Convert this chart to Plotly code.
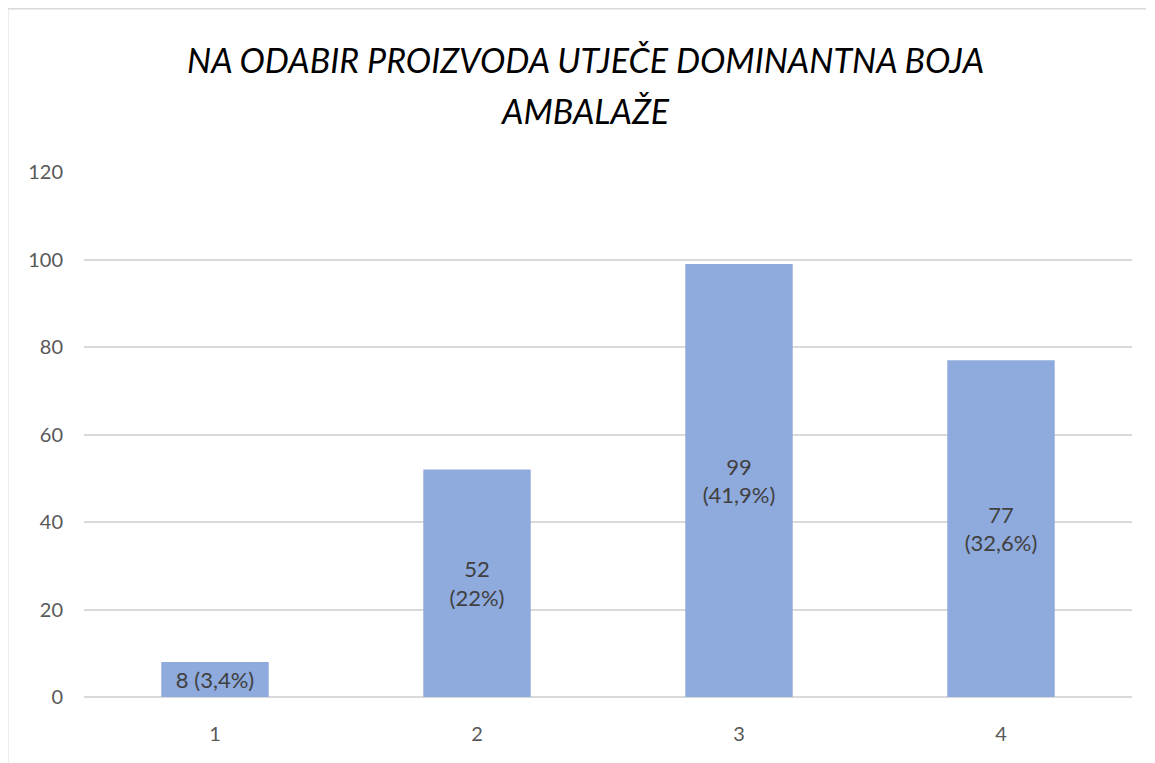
import plotly.graph_objects as go

categories = ["1", "2", "3", "4"]
values = [8, 52, 99, 77]
percent_labels = ["3,4%", "22%", "41,9%", "32,6%"]
label_breaks = [" ", "<br>", "<br>", "<br>"]
title_lines = ["NA ODABIR PROIZVODA UTJEČE DOMINANTNA BOJA", "AMBALAŽE"]
y_ticks = [0, 20, 40, 60, 80, 100, 120]

W, H = 1155, 763
OFF = 8  # page body margin offset
L, R, T, B = 84 - OFF, 23 + OFF, 172 - OFF, 66 + OFF
pw, ph = W - L - R, H - T - B

def px_x(x):
    return (x - OFF - L) / pw

def px_y(y):
    return 1 - (y - OFF - T) / ph

texts = [f"{v}{br}({p})" for v, br, p in zip(values, label_breaks, percent_labels)]

FONT = "Lato, 'Open Sans', sans-serif"

fig = go.Figure(go.Bar(
    x=categories, y=values,
    marker=dict(color="#8FAADC", line=dict(width=0)),
    text=texts, textposition="inside", insidetextanchor="middle",
    constraintext="none",
    textfont=dict(family=FONT, size=22, color="#404040"),
    hoverinfo="skip",
))

annotations = []
for line, ypx in zip(title_lines, [60, 110]):
    annotations.append(dict(
        text=f"<i>{line}</i>", x=px_x(585), y=px_y(ypx), xref="paper", yref="paper",
        xanchor="center", yanchor="middle", showarrow=False,
        font=dict(family=FONT, size=34, color="#000000"),
    ))

fig.update_layout(
    width=W, height=H,
    margin=dict(l=L, r=R, t=T, b=B),
    paper_bgcolor="white", plot_bgcolor="white",
    bargap=0.59,
    showlegend=False,
    annotations=annotations,
    shapes=[
        dict(type="line", xref="paper", yref="paper",
             x0=px_x(7.5), x1=px_x(1146), y0=px_y(8.5), y1=px_y(8.5),
             line=dict(color="#D9D9D9", width=2)),
        dict(type="line", xref="paper", yref="paper",
             x0=px_x(7.5), x1=px_x(7.5), y0=px_y(8.5), y1=px_y(780),
             line=dict(color="#D9D9D9", width=2)),
    ],
    xaxis=dict(
        type="category", showgrid=False, showline=False, zeroline=False,
        ticks="", ticklabelstandoff=23,
        tickfont=dict(family=FONT, size=20, color="#595959"),
    ),
    yaxis=dict(
        range=[0, 120], tickvals=y_ticks, showgrid=True, gridcolor="#D9D9D9",
        gridwidth=1.5, zeroline=True, zerolinecolor="#D9D9D9", zerolinewidth=1.5,
        showline=False, ticks="", ticklabelstandoff=20,
        tickfont=dict(family=FONT, size=20, color="#595959"),
    ),
)

fig.write_html("out.html")
